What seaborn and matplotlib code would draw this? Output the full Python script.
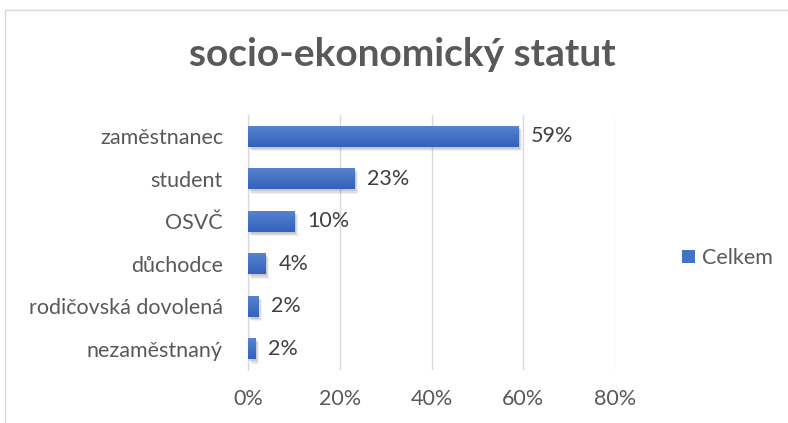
import matplotlib
matplotlib.use("Agg")
import matplotlib.pyplot as plt
import seaborn as sns
import pandas as pd
import numpy as np
from matplotlib import patheffects as pe
from matplotlib.lines import Line2D
from matplotlib.patches import Patch
from matplotlib.colors import LinearSegmentedColormap
from matplotlib.ticker import PercentFormatter

categories = ["zaměstnanec", "student", "OSVČ", "důchodce", "rodičovská dovolená", "nezaměstnaný"]
values = [0.589, 0.233, 0.102, 0.039, 0.022, 0.017]
label_texts = ["59%", "23%", "10%", "4%", "2%", "2%"]
xticks = [0, 0.2, 0.4, 0.6, 0.8]
series_name = "Celkem"
title = "socio-ekonomický statut"

sns.set_theme(style="white")
plt.rcParams["font.family"] = ["Lato", "DejaVu Sans"]

df = pd.DataFrame({"kategorie": categories, "podil": values})

fig = plt.figure(figsize=(7.88, 4.23), dpi=100)
ax = fig.add_axes([248/788, 1 - 370/423, (615-248)/788, 255/423])

bar_color = "#4472C4"
sns.barplot(data=df, y="kategorie", x="podil", orient="h", color=bar_color,
            width=0.5, saturation=1, ax=ax, zorder=3)

grad_cmap = LinearSegmentedColormap.from_list("g", ["#5b84d2", "#4472c4", "#3461bc"])
grad = np.linspace(0, 1, 64).reshape(-1, 1)
shadow = [pe.SimplePatchShadow(offset=(o, -o - 0.5), shadow_rgbFace="#505050", alpha=a)
          for o, a in [(2.5, 0.08), (1.8, 0.12), (1.0, 0.15)]]
for p in list(ax.patches):
    p.set_edgecolor("none")
    p.set_path_effects(shadow + [pe.Normal()])
    x0, y0, w, h = p.get_x(), p.get_y(), p.get_width(), p.get_height()
    im = ax.imshow(grad, cmap=grad_cmap, aspect="auto", extent=(x0, x0 + w, y0 + h, y0),
                   zorder=4, interpolation="bilinear")
    im.set_clip_path(p)

ax.set_xlim(0, 0.8)
ax.set_ylim(5.5, -0.5)
ax.set_xticks(xticks)
ax.xaxis.set_major_formatter(PercentFormatter(1.0, decimals=0))
ax.grid(axis="x", color="#d9d9d9", linewidth=1, zorder=0)
ax.set_axisbelow(True)
for s in ["top", "right", "bottom"]:
    ax.spines[s].set_visible(False)
ax.spines["left"].set_color("#d9d9d9")
ax.spines["left"].set_linewidth(1)
ax.set_xlabel("")
ax.set_ylabel("")
ax.tick_params(axis="both", length=0, labelsize=15.5, colors="#595959")
ax.tick_params(axis="y", pad=18)
ax.tick_params(axis="x", pad=14)

for p, t in zip(ax.patches, label_texts):
    ax.annotate(t, (p.get_width(), p.get_y() + p.get_height() / 2),
                xytext=(9, 0), textcoords="offset points", va="center", ha="left",
                fontsize=15.5, color="#404040", zorder=5)

fig.text(402/788, 1 - 55/423, title, ha="center", va="center", fontsize=28,
         fontweight="bold", color="#595959")

handle = Patch(facecolor=bar_color, edgecolor="none")
fig.legend([handle], [series_name], loc="center left", bbox_to_anchor=(663/788, 1 - 258/423),
           frameon=False, fontsize=15.5, labelcolor="#595959", handlelength=0.6, handleheight=0.6,
           handletextpad=0.3)

# chart border
fig.add_artist(Line2D([5/788, 1], [1 - 10/423, 1 - 10/423], color="#d9d9d9", lw=1, transform=fig.transFigure))
fig.add_artist(Line2D([5/788, 5/788], [0, 1 - 10/423], color="#d9d9d9", lw=1, transform=fig.transFigure))

fig.savefig("out.png", dpi=100)
